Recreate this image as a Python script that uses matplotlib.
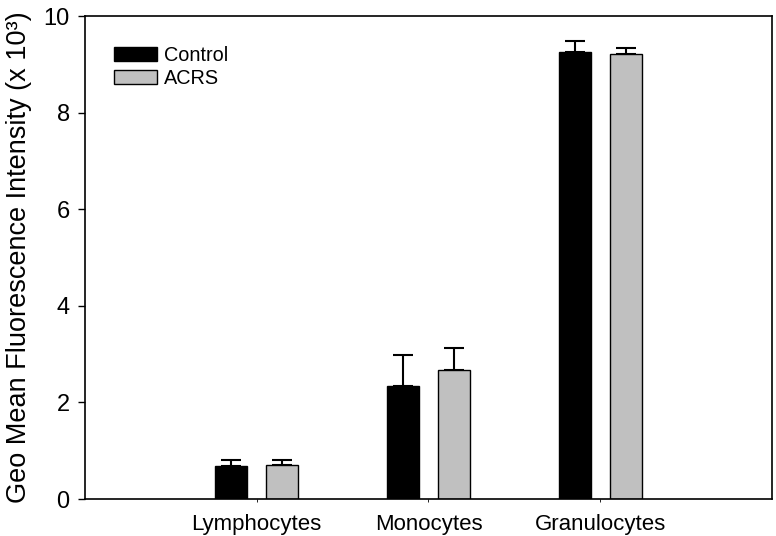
import numpy as np
import matplotlib
matplotlib.use('Agg')
import matplotlib.pyplot as plt

# values (x 10^3)
cells = ['Lymphocytes', 'Monocytes', 'Granulocytes']
control = [0.68, 2.34, 9.25]
control_err = [0.13, 0.64, 0.23]
acrs = [0.70, 2.67, 9.21]
acrs_err = [0.11, 0.46, 0.13]

plt.rcParams['font.family'] = ['Liberation Sans', 'DejaVu Sans']

fig = plt.figure(figsize=(7.76, 5.36), dpi=100)
ax = fig.add_axes([0.1095, 0.069, 0.8853, 0.901])

x = np.arange(1, len(cells) + 1)
w = 0.185
off = 0.148

ax.bar(x - off, control, w, color='black', edgecolor='black', linewidth=1,
       label='Control', zorder=2)
ax.bar(x + off, acrs, w, color='#c0c0c0', edgecolor='black', linewidth=1,
       label='ACRS', zorder=2)
# upward error bars only
ax.errorbar(x - off, control, yerr=[np.zeros(3), control_err], fmt='none',
            ecolor='black', elinewidth=1.5, capsize=7, capthick=1.5, zorder=1)
ax.errorbar(x + off, acrs, yerr=[np.zeros(3), acrs_err], fmt='none',
            ecolor='black', elinewidth=1.5, capsize=7, capthick=1.5, zorder=1)

ax.set_xlim(0, 4)
ax.set_ylim(0, 10)
ax.set_xticks(x)
ax.set_xticklabels(cells, fontsize=16)
ax.set_yticks([0, 2, 4, 6, 8, 10])
ax.tick_params(axis='y', length=5, width=1, pad=6, labelsize=17)
ax.tick_params(axis='x', length=2, width=0.6, pad=9)
ax.set_ylabel('Geo Mean Fluorescence Intensity (x 10³)', fontsize=19.5, labelpad=8)

for s in ax.spines.values():
    s.set_linewidth(1.2)

ax.legend(loc='upper left', bbox_to_anchor=(0.03, 0.955), frameon=False,
          fontsize=14.3, handlelength=2.2, handleheight=0.7,
          handletextpad=0.35, labelspacing=0.2, borderaxespad=0)

fig.savefig('out.png', dpi=100)
